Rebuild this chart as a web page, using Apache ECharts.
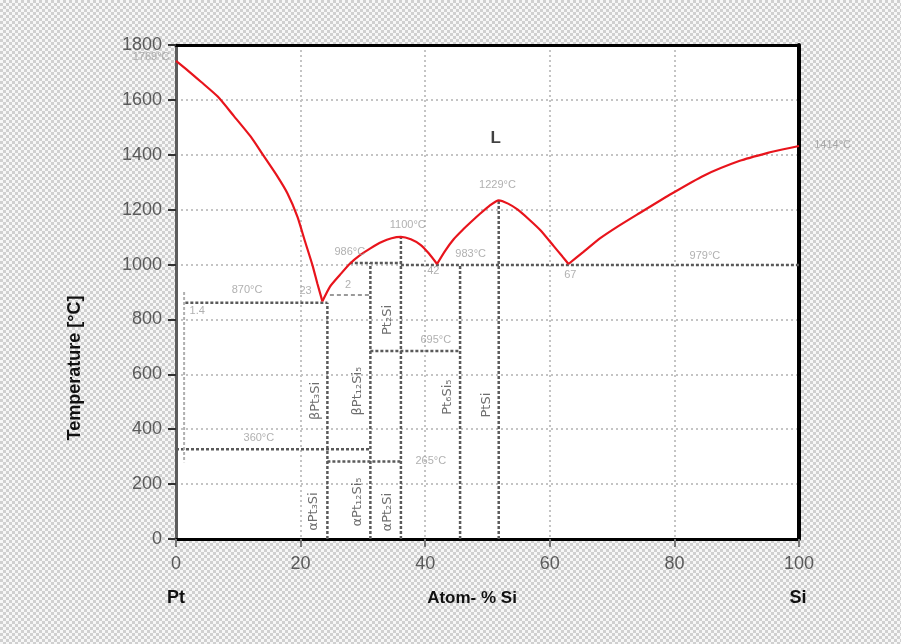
<!DOCTYPE html>
<html><head><meta charset="utf-8">
<script src="https://cdn.jsdelivr.net/npm/echarts@6/dist/echarts.min.js"></script>
<style>
html,body{margin:0;padding:0;}
body{width:901px;height:644px;overflow:hidden;background:repeating-conic-gradient(#d0d0d0 0 25%, #f7f7f7 0 50%) 0 0/6px 6px;}
#c{width:901px;height:644px;}
</style></head><body><div id="c"></div>
<script>
// ---- Liquidus, [at.% Si, °C]
const liquidusPtSide = [[0,1742],[2.0,1705],[4.0,1666],[6.7,1612],[9.3,1541],[12.0,1466],[14.1,1395],[16.2,1324],[17.9,1259],[19.5,1174],[20.7,1085],[21.9,998],[22.7,930],[23.5,866]];
const liquidusPt2Si = [[23.5,866],[24.7,919],[26.3,962],[27.9,1003],[29.6,1035],[31.2,1059],[33.0,1082],[34.6,1096],[36.1,1101],[37.7,1092],[39.3,1071],[40.6,1040],[41.9,1002]];
const liquidusPtSi = [[41.9,1002],[43.2,1050],[44.6,1093],[46.0,1126],[47.3,1154],[48.8,1185],[50.3,1214],[51.8,1234],[53.3,1222],[54.8,1201],[56.5,1168],[58.5,1125],[60.6,1068],[62.0,1030],[63.0,1002]];
const liquidusSiSide = [[63.0,1002],[65.4,1046],[68.1,1096],[71.0,1140],[74.0,1182],[79.6,1259],[84.7,1324],[90.5,1378],[95.0,1407],[97.5,1420],[100,1432]];

// ---- Invariant (horizontal) lines
const horizT    = [861, 1006, 998, 685, 327, 282];
const horizFrom = [1.5, 27.9, 36.1, 31.2, 0, 24.3];
const horizTo   = [24.3, 36.1, 100, 45.6, 31.2, 36.1];
// faint lines
const faintT = [889]; const faintFrom = [24.7]; const faintTo = [31.2];
const solvusX = [1.3, 1.3]; const solvusT = [900, 280];

// ---- Compounds (vertical lines)
const compoundX   = [24.3, 31.2, 36.1, 45.6, 51.8];
const compoundTop = [861, 1006, 1101, 998, 1234];

// ---- Temperature annotations
const tempLabels = ['1769°C','1414°C','1229°C','1100°C','986°C','983°C','979°C','870°C','695°C','360°C','265°C','23','2','42','67','1.4'];
const tempLabelX = [-4.0, 105.4, 51.6, 37.2, 27.9, 47.3, 84.9, 11.4, 41.7, 13.3, 40.9, 20.8, 27.6, 41.3, 63.3, 3.4];
const tempLabelT = [1756, 1435, 1290, 1144, 1046, 1038, 1031, 907, 725, 368, 284, 903, 925, 976, 962, 831];

// ---- Phase labels
const phaseLabels = ['βPt₃Si','αPt₃Si','βPt₁₂Si₅','αPt₁₂Si₅','Pt₂Si','αPt₂Si','Pt₆Si₅','PtSi'];
const phaseX = [22.4, 22.1, 29.2, 29.2, 34.0, 34.0, 43.6, 49.8];
const phaseT = [503, 100, 539, 135, 798, 98, 517, 488];

const FONT = 'Liberation Sans';
const chart = echarts.init(document.getElementById('c'), null, {renderer:'canvas'});

const series = [];
const red = '#e8141c';
[liquidusPtSide, liquidusPt2Si, liquidusPtSi, liquidusSiSide].forEach(d => {
  series.push({type:'line', data:d, smooth:0.2, symbol:'none', z:5,
    lineStyle:{color:red, width:2.2}});
});
horizT.forEach((t,i) => {
  series.push({type:'line', data:[[horizFrom[i],t],[horizTo[i],t]], symbol:'none', z:3,
    lineStyle:{color:'#5a5a5a', width:2.5, type:[3,2]}});
});
faintT.forEach((t,i) => {
  series.push({type:'line', data:[[faintFrom[i],t],[faintTo[i],t]], symbol:'none', z:3,
    lineStyle:{color:'#9a9a9a', width:2, type:[4,3]}});
});
series.push({type:'line', data:[[solvusX[0],solvusT[0]],[solvusX[1],solvusT[1]]], symbol:'none', z:3,
  lineStyle:{color:'#b0b0b0', width:2, type:[3,2]}});
compoundX.forEach((x,i) => {
  series.push({type:'line', data:[[x,0],[x,compoundTop[i]]], symbol:'none', z:3,
    lineStyle:{color:'#5a5a5a', width:2.5, type:[3,2]}});
});
series.push({type:'scatter', symbolSize:0, clip:false, z:6,
  data: tempLabels.map((s,i)=>({name:s, value:[tempLabelX[i], tempLabelT[i]]})),
  label:{show:true, position:'inside', formatter:'{b}', color:'#9c9c9c', fontSize:11, fontFamily:FONT}});
series.push({type:'scatter', symbolSize:0, clip:false, z:6,
  data: phaseLabels.map((s,i)=>({name:s, value:[phaseX[i], phaseT[i]]})),
  label:{show:true, position:'inside', formatter:'{b}', rotate:90, color:'#4a4a4a', fontSize:13, fontFamily:'DejaVu Sans'}});
series.push({type:'scatter', symbolSize:0, clip:false, z:6,
  data:[{name:'L', value:[51.3,1461]}],
  label:{show:true, position:'inside', formatter:'{b}', color:'#111', fontSize:17, fontWeight:'bold', fontFamily:FONT}});

const grid = {left:176, right:102, top:45, bottom:105, show:true, backgroundColor:'#ffffff', borderWidth:0};
const split = {show:true, lineStyle:{color:'#c4c4c4', width:2, type:[2,3]}};
const plain = v => String(v);

chart.setOption({
  animation:false,
  grid: grid,
  xAxis:[
    {type:'value', min:0, max:100, interval:20, position:'bottom',
     axisLine:{show:true, onZero:false, lineStyle:{color:'#000', width:3}},
     axisTick:{show:true, length:8, lineStyle:{color:'#777', width:2}},
     axisLabel:{fontSize:18, color:'#5a5a5a', margin:16, fontFamily:FONT, formatter:plain},
     splitLine:split},
    {type:'value', min:0, max:100, position:'top',
     axisLine:{show:true, onZero:false, lineStyle:{color:'#000', width:3}},
     axisTick:{show:false}, axisLabel:{show:false}, splitLine:{show:false}}
  ],
  yAxis:[
    {type:'value', min:0, max:1800, interval:200, position:'left',
     axisLine:{show:true, onZero:false, lineStyle:{color:'#5c5c5c', width:3}},
     axisTick:{show:true, length:8, lineStyle:{color:'#333', width:2}},
     axisLabel:{fontSize:18, color:'#5a5a5a', margin:14, fontFamily:FONT, formatter:plain},
     splitLine:split},
    {type:'value', min:0, max:1800, position:'right',
     axisLine:{show:true, onZero:false, lineStyle:{color:'#000', width:4}},
     axisTick:{show:false}, axisLabel:{show:false}, splitLine:{show:false}}
  ],
  graphic:[
    {type:'text', x:75, y:368, rotation:Math.PI/2, style:{text:'Temperature [°C]', align:'center', verticalAlign:'middle', font:'bold 18px "Liberation Sans"', fill:'#111'}},
    {type:'text', x:176, y:598, style:{text:'Pt', align:'center', verticalAlign:'middle', font:'bold 18px "Liberation Sans"', fill:'#111'}},
    {type:'text', x:472, y:598, style:{text:'Atom- % Si', align:'center', verticalAlign:'middle', font:'bold 17px "Liberation Sans"', fill:'#111'}},
    {type:'text', x:798, y:598, style:{text:'Si', align:'center', verticalAlign:'middle', font:'bold 18px "Liberation Sans"', fill:'#111'}}
  ],
  series: series
});
</script></body></html>
